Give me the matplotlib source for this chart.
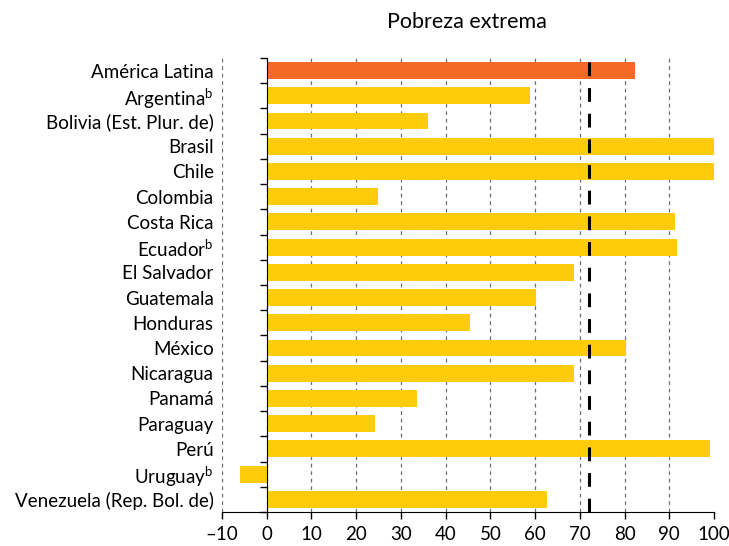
import matplotlib as mpl
import matplotlib.pyplot as plt
import numpy as np

# data
paises = ['América Latina', 'Argentina$^{\\mathrm{b}}$', 'Bolivia (Est. Plur. de)', 'Brasil',
          'Chile', 'Colombia', 'Costa Rica', 'Ecuador$^{\\mathrm{b}}$', 'El Salvador',
          'Guatemala', 'Honduras', 'México', 'Nicaragua', 'Panamá', 'Paraguay', 'Perú',
          'Uruguay$^{\\mathrm{b}}$', 'Venezuela (Rep. Bol. de)']
valores = [82.3, 58.8, 36.0, 100.0, 100.0, 24.8, 91.3, 91.7, 68.7, 60.2, 45.4, 80.3,
           68.7, 33.6, 24.2, 99.1, -6.0, 62.6]
promedio = 72.0
xticks = list(range(-10, 101, 10))
xticklabels = ['–10'] + [str(v) for v in xticks[1:]]

mpl.rcParams['font.family'] = ['Lato', 'DejaVu Sans']
mpl.rcParams['mathtext.fontset'] = 'custom'
mpl.rcParams['mathtext.rm'] = 'Lato'

fig = plt.figure(figsize=(7.29, 5.46), dpi=100)
ax = fig.add_axes([0.3045, 0.0623, 0.6749, 0.8315])

y = np.arange(len(paises))
colores = ['#F26A25'] + ['#FFCC0B'] * (len(paises) - 1)
ax.barh(y, valores, height=0.67, color=colores, zorder=2)

ax.axvline(promedio, color='black', lw=2.2, linestyle=(0, (4.5, 3.9)), zorder=4)

ax.set_xlim(-10, 100)
ax.set_ylim(len(paises) - 0.5, -0.5)
ax.set_xticks(xticks)
ax.set_xticklabels(xticklabels, fontsize=13.5)
ax.set_yticks(y)
ax.set_yticklabels(paises, fontsize=13.5)
ax.tick_params(axis='y', length=0, pad=6)
ax.tick_params(axis='x', direction='out', length=5, width=1, color='black', pad=5)

ax.grid(axis='x', color='#6f6f6f', linestyle=(0, (3, 3)), lw=0.9, zorder=1)
ax.xaxis.get_gridlines()[-1].set_visible(False)
for s in ['left', 'right', 'top']:
    ax.spines[s].set_visible(False)
ax.spines['bottom'].set_color('black')

# vertical axis at zero with category separators
ax2 = ax.twinx()
ax2.set_ylim(ax.get_ylim())
for s in ['right', 'top', 'bottom']:
    ax2.spines[s].set_visible(False)
ax2.spines['left'].set_position(('data', 0))
ax2.spines['left'].set_color('black')
ax2.yaxis.tick_left()
ax2.set_yticks(np.arange(len(paises) + 1) - 0.5)
ax2.set_yticklabels([])
ax2.tick_params(axis='y', direction='out', length=5, width=1)

fig.text(0.64, 0.96, 'Pobreza extrema', ha='center', va='center', fontsize=15.5)

plt.savefig('out.png', dpi=100)
